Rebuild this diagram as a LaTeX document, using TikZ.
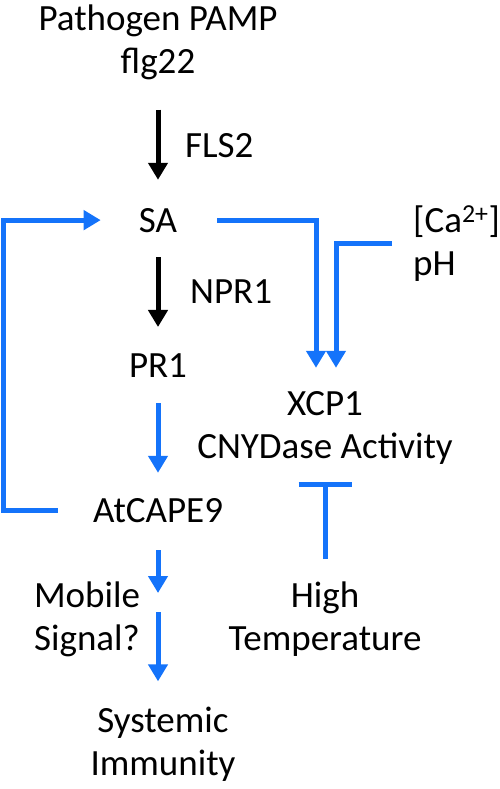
\documentclass[tikz,border=0pt]{standalone}
\usepackage{fontspec}
\setmainfont{Carlito}
\usetikzlibrary{positioning,arrows.meta}
\definecolor{sigblue}{RGB}{20,115,250}

\begin{document}
\begin{tikzpicture}[
        x=1pt, y=-1pt,
        font=\fontsize{37}{43}\selectfont,
        % Styles
        txt/.style={inner sep=0pt, anchor=base, align=center},
        blackarrow/.style={line width=5pt, -{Triangle[width=19pt, length=17pt]}, color=black},
        bluearrow/.style={line width=5pt, -{Triangle[width=19pt, length=17pt]}, color=sigblue},
        blocker/.style={line width=5pt, -{Bar[width=53pt]}, color=sigblue}
    ]
    \useasboundingbox (0,0) rectangle (500,789);

    % ================= MAIN COLUMN =================
    % (base of a two-line node = its last line)
    \node[txt] (pamp) at (158, 74) {Pathogen PAMP\\flg22};
    \node[txt] (sa) at (158, 232) {SA};
    \node[txt] (pr) at (158, 377) {PR1};
    \node[txt] (cape) at (158, 522) {AtCAPE9};
    \node[txt] (sys) at (163, 775) {Systemic\\Immunity};
    \coordinate (sig) at (158, 602);

    % arrow labels
    \node[txt, anchor=base west] (fls) at (185, 157) {FLS2};
    \node[txt, anchor=base west] (npr) at (190, 303) {NPR1};
    \node[txt] (mob) at (87, 650) {Mobile\\Signal?};

    % Connections
    \draw[blackarrow, shorten <=29pt, shorten >=28pt] (pamp.south) -- (sa.north);
    \draw[blackarrow, shorten <=25pt, shorten >=26pt] (sa.south) -- (pr.north);
    \draw[bluearrow, shorten <=26pt, shorten >=25pt] (pr.south) -- (cape.north);
    \draw[bluearrow, shorten <=28pt, shorten >=9pt] (cape.south) -- (sig);
    \draw[bluearrow, shorten <=10pt, shorten >=25pt] (sig) -- (sig |- sys.north);

    % Feedback loop back to SA
    \draw[bluearrow, shorten <=35pt, shorten >=38pt] (cape.west) -- ++(-89,0) |- (sa.west);

    % ================= RIGHT COLUMN =================
    \node[txt] (xcp) at (325, 458) {XCP1\\CNYDase Activity};
    \node[txt, anchor=base west, align=left] (ion) at (413, 275) {[Ca\textsuperscript{2+}]\\pH};
    \node[txt] (heat) at (325, 650) {High\\Temperature};

    \draw[bluearrow, shorten <=40pt, shorten >=23pt] (sa.east) -| ([xshift=-9pt]xcp.north);
    \draw[bluearrow, shorten <=21pt, shorten >=23pt] (ion.west) -| ([xshift=11pt]xcp.north);

    % inhibition by temperature
    \draw[blocker, shorten <=22pt, shorten >=18pt] (heat.north) -- (heat.north |- xcp.south);

\end{tikzpicture}
\end{document}
